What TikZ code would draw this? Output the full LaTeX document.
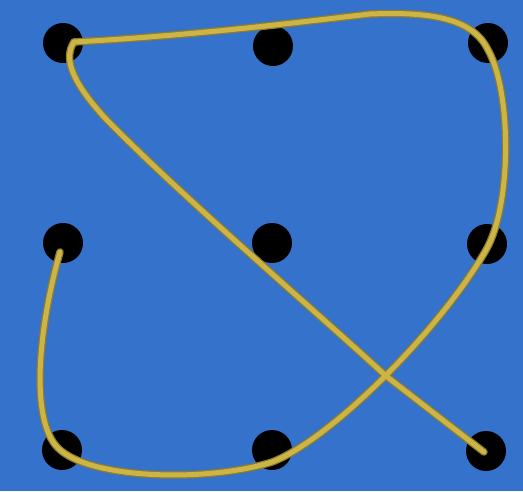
\documentclass[tikz,border=0pt]{standalone}
\definecolor{bgblue}{RGB}{52,114,204}
\definecolor{gold}{RGB}{205,180,70}
\definecolor{golddark}{RGB}{140,125,45}
\begin{document}
\begin{tikzpicture}[x=1pt,y=-1pt,
  dot/.style={circle,fill=black,inner sep=0pt,minimum size=40pt},
  rope/.style={line width=7.5pt,golddark,line cap=round,line join=round},
  ropein/.style={line width=5pt,gold,line cap=round,line join=round}]
\fill[bgblue] (0,0) rectangle (523,491);
\useasboundingbox (0,0) rectangle (523,491);
\node[dot] (tl) at (63,43) {};
\node[dot] (tm) at (273,46) {};
\node[dot] (tr) at (488,43) {};
\node[dot] (ml) at (63,243) {};
\node[dot] (mc) at (272,243) {};
\node[dot] (mr) at (487,244) {};
\node[dot] (bl) at (62,450) {};
\node[dot] (bm) at (272,450) {};
\node[dot] (br) at (486,451) {};
\coordinate (cross) at (386,376);
\coordinate (cusp) at (74,42);
\foreach \s in {rope,ropein}{
\draw[\s] (60,252) .. controls (38,330) and (30,420) .. (58,448)
  .. controls (90,480) and (210,482) .. (272,462)
  .. controls (330,440) and (440,330) .. (486,250)
  .. controls (512,205) and (512,90) .. (487,48)
  .. controls (470,15) and (420,12) .. (370,14)
  .. controls (300,22) and (200,35) .. (cusp);
\draw[\s] (cusp) .. controls (62,60) and (75,85) .. (105,118)
  .. controls (180,195) and (320,315) .. (cross) -- (484,452);
}
\end{tikzpicture}
\end{document}
